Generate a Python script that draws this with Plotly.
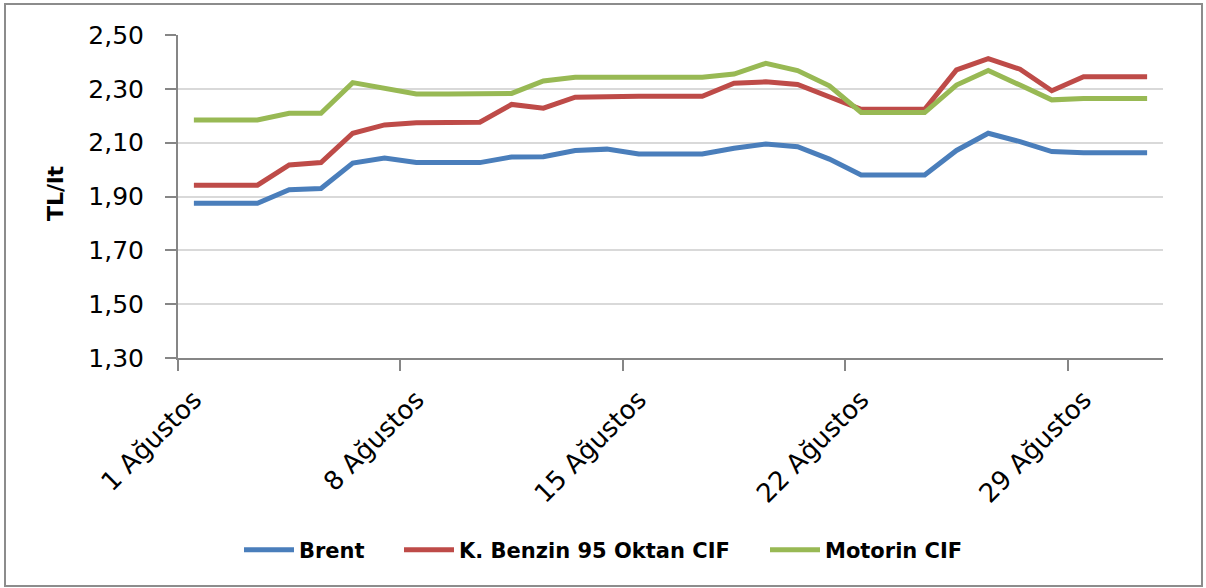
import plotly.graph_objects as go

# Categories: days of August
days = [1, 2, 3, 4, 5, 6, 7, 8, 9, 10, 11, 12, 13, 14, 15, 16,
        17, 18, 19, 20, 21, 22, 23, 24, 25, 26, 27, 28, 29, 30, 31]
tick_days = [1, 8, 15, 22, 29]
tick_labels = ["1 Ağustos", "8 Ağustos", "15 Ağustos", "22 Ağustos", "29 Ağustos"]

brent = [1.875, 1.875, 1.875, 1.925, 1.930, 2.024, 2.043, 2.026, 2.026, 2.026,
         2.047, 2.048, 2.071, 2.076, 2.058, 2.058, 2.058, 2.079, 2.095, 2.085,
         2.039, 1.980, 1.980, 1.980, 2.071, 2.135, 2.104, 2.067, 2.063, 2.063, 2.063]
benzin = [1.942, 1.942, 1.942, 2.017, 2.026, 2.135, 2.166, 2.174, 2.176, 2.176,
          2.242, 2.228, 2.269, 2.272, 2.272, 2.272, 2.272, 2.321, 2.326, 2.316,
          2.271, 2.224, 2.224, 2.224, 2.370, 2.412, 2.373, 2.293, 2.345, 2.345, 2.345]
motorin = [2.184, 2.184, 2.184, 2.209, 2.209, 2.323, 2.302, 2.281, 2.281, 2.281,
           2.283, 2.329, 2.343, 2.343, 2.343, 2.343, 2.343, 2.355, 2.395, 2.368,
           2.311, 2.212, 2.212, 2.212, 2.314, 2.368, 2.314, 2.259, 2.264, 2.264, 2.264]

series = [
    ("Brent", brent, "#4A7EBB", "legend"),
    ("K. Benzin 95 Oktan CIF", benzin, "#BE4B48", "legend2"),
    ("Motorin CIF", motorin, "#98B954", "legend3"),
]
legend_left_px = [239, 399, 765]

fig = go.Figure()
for name, vals, color, leg in series:
    fig.add_trace(go.Scatter(x=days, y=vals, name=name, mode="lines",
                             line=dict(color=color, width=5), legend=leg))

W, H = 1206, 588
L, R, T, B = 178, 43, 35, 230
pw, ph = W - L - R, H - T - B

def px_x(p):
    return (p - L) / pw

def px_y(p):
    return (H - B - p) / ph

def make_legend(px):
    return dict(orientation="h", x=px_x(px), xanchor="left",
                y=px_y(550), yanchor="middle",
                font=dict(size=21, weight="bold", family="DejaVu Sans", color="#000000"),
                itemwidth=50, bgcolor="rgba(0,0,0,0)")

fig.update_layout(
    width=W, height=H,
    margin=dict(l=L, r=R, t=T, b=B),
    paper_bgcolor="white", plot_bgcolor="white",
    separators=",.",
    font=dict(family="DejaVu Sans", color="#000000"),
    showlegend=True,
    legend=make_legend(legend_left_px[0]),
    legend2=make_legend(legend_left_px[1]),
    legend3=make_legend(legend_left_px[2]),
    xaxis=dict(range=[0.5, 31.5], tickmode="array", tickvals=tick_days,
               ticktext=tick_labels, tickangle=-45, ticks="",
               ticklabelstandoff=14,
               tickfont=dict(size=26), showgrid=False, zeroline=False,
               showline=True, linecolor="#868686", linewidth=2,
               minor=dict(tickmode="linear", tick0=0.5, dtick=7, ticks="outside",
                          ticklen=11, tickwidth=2, tickcolor="#868686", showgrid=False)),
    yaxis=dict(range=[1.30, 2.50], dtick=0.2, tick0=1.30, tickformat=".2f",
               ticks="outside", ticklen=11, tickwidth=2, tickcolor="#868686",
               ticklabelstandoff=16,
               tickfont=dict(size=25), showgrid=True, gridcolor="#D9D9D9",
               gridwidth=2, zeroline=False, showline=True,
               linecolor="#868686", linewidth=2),
)

fig.add_annotation(text="<b>TL/lt</b>", xref="paper", yref="paper",
                   x=px_x(55), y=px_y(193), xanchor="center", yanchor="middle",
                   textangle=-90, showarrow=False,
                   font=dict(size=22, family="DejaVu Sans", color="#000000"))

fig.add_shape(type="rect", xref="paper", yref="paper",
              x0=px_x(5), x1=px_x(1202), y0=px_y(586), y1=px_y(4),
              line=dict(color="#8C8C8C", width=2), layer="below")

fig.write_html("out.html", config={"displayModeBar": False},
               post_script="document.body.style.margin='0';")
